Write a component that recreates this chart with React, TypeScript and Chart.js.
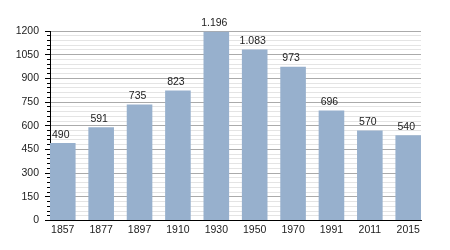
import React, { useEffect, useRef } from "react";
import { Chart, registerables } from "chart.js";

Chart.register(...registerables);

const years = ["1857", "1877", "1897", "1910", "1930", "1950", "1970", "1991", "2011", "2015"];
const population = [490, 591, 735, 823, 1196, 1083, 973, 696, 570, 540];
const yMax = 1200;
const yMajorStep = 150;
const yMinorStep = 30;

const BAR_COLOR = "rgb(151,176,205)";
const FONT = "'Liberation Sans', Arial, sans-serif";

function fmt(v: number): string {
  return String(v).replace(/\B(?=(\d{3})+(?!\d))/g, ".");
}

const valueLabels = {
  id: "valueLabels",
  afterDatasetsDraw(chart: any) {
    const ctx = chart.ctx;
    const meta = chart.getDatasetMeta(0);
    ctx.save();
    ctx.font = `10.5px ${FONT}`;
    ctx.fillStyle = "#222";
    ctx.textAlign = "center";
    ctx.textBaseline = "bottom";
    meta.data.forEach((bar: any, i: number) => {
      ctx.fillText(fmt(population[i]), bar.x - 2, bar.y - 3);
    });
    ctx.restore();
  },
};

export default function App() {
  const ref = useRef<HTMLCanvasElement | null>(null);
  useEffect(() => {
    if (!ref.current) return;
    Chart.defaults.font.family = FONT;
    const chart = new Chart(ref.current, {
      type: "bar",
      data: {
        datasets: [
          {
            data: population.map((v, i) => ({ x: i, y: v })),
            backgroundColor: BAR_COLOR,
            borderWidth: 0,
            categoryPercentage: 1,
            barPercentage: 0.667,
          },
        ],
      },
      options: {
        responsive: false,
        animation: false,
        layout: { padding: { top: 31, right: 29, bottom: 0, left: 0 } },
        plugins: { legend: { display: false }, tooltip: { enabled: false } },
        scales: {
          x: {
            type: "linear",
            offset: false,
            min: -0.333,
            max: 9.333,
            grid: { display: false, drawTicks: false, tickLength: 0 },
            border: { display: true, color: "#000", width: 1 },
            ticks: {
              stepSize: 1,
              includeBounds: false,
              padding: 3,
              color: "#222",
              font: { size: 10.5 },
              maxRotation: 0,
              autoSkip: false,
              callback: (v: any) => years[v as number] ?? "",
            },
            afterFit: (s: any) => {
              s.height = 29.5;
            },
          },
          y: {
            min: 0,
            max: yMax,
            border: { display: true, color: "#000", width: 1 },
            grid: {
              color: (c: any) =>
                c.tick && c.tick.value % yMajorStep === 0 ? "#aaaaaa" : "#e4e4e4",
              tickColor: "#000",
              tickLength: 5,
              tickBorderDash: (c: any) =>
                c.tick && c.tick.value % yMajorStep === 0 ? [] : [0, 2, 3, 100],
            },
            ticks: {
              stepSize: yMinorStep,
              autoSkip: false,
              padding: 6,
              color: "#222",
              font: { size: 10.5 },
              callback: (v: any) => ((v as number) % yMajorStep === 0 ? String(v) : ""),
            },
            afterFit: (s: any) => {
              s.width = 50;
            },
          },
        },
      },
      plugins: [valueLabels],
    });
    return () => chart.destroy();
  }, []);
  return (
    <div style={{ position: "absolute", left: 0, top: 0, width: 450, height: 250, background: "#fff" }}>
      <canvas ref={ref} width={450} height={250} />
    </div>
  );
}
